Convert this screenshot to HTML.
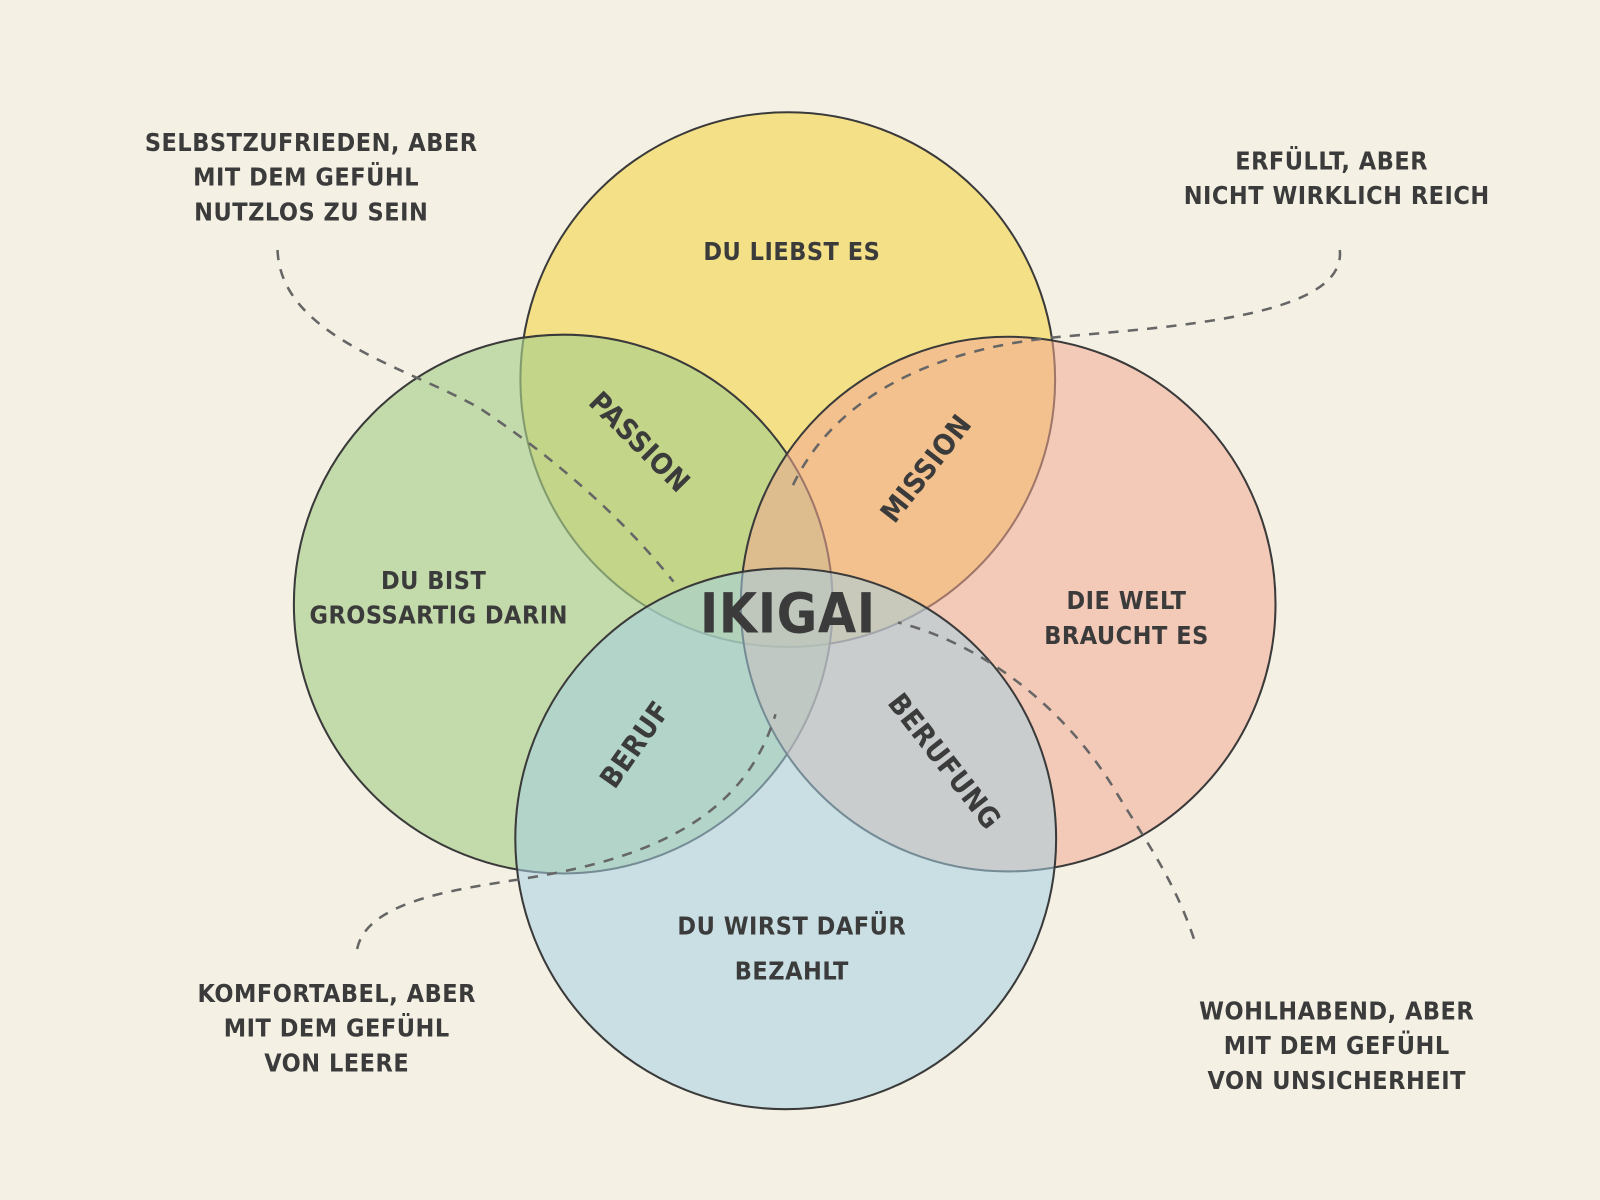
<!DOCTYPE html>
<html><head><meta charset="utf-8"><style>
html,body{margin:0;padding:0;background:#f4f1e4;}
svg{display:block;}
text{font-family:"Liberation Sans Narrow","DejaVu Sans Condensed","Liberation Sans",sans-serif;font-weight:bold;fill:#3b3b3b;text-anchor:middle;letter-spacing:0.5px;}
</style></head><body>
<svg width="1600" height="1200" viewBox="0 0 1568 1176" preserveAspectRatio="none" xmlns="http://www.w3.org/2000/svg">
<rect width="1568" height="1176" fill="#f4f1e4"/>
<g stroke="#3a3a3a" stroke-width="2">
<circle cx="772" cy="372" r="262" fill="#f4d860" fill-opacity="0.7"/>
<circle cx="552" cy="592" r="264" fill="#a9d08a" fill-opacity="0.65"/>
<circle cx="988" cy="592" r="262" fill="#f2a892" fill-opacity="0.55"/>
<circle cx="770" cy="822" r="265" fill="#a6d0e2" fill-opacity="0.55"/>
</g>
<g fill="none" stroke="#666" stroke-width="2.5" stroke-dasharray="10,9">
<path d="M272 245 C275 330 400 360 470 400 C560 460 620 520 660 570"/>
<path d="M1313 245 C1320 310 1150 320 1040 330 C930 340 820 380 775 480"/>
<path d="M350 930 C360 880 460 870 520 860 C640 840 730 800 760 700"/>
<path d="M1170 920 C1150 860 1120 820 1090 770 C1040 690 960 630 880 610"/>
</g>
<g font-size="24.5">
<text x="305" y="148">SELBSTZUFRIEDEN, ABER</text>
<text x="300" y="182">MIT DEM GEFÜHL</text>
<text x="305" y="216">NUTZLOS ZU SEIN</text>
<text x="1305" y="166">ERFÜLLT, ABER</text>
<text x="1310" y="200">NICHT WIRKLICH REICH</text>
<text x="330" y="982">KOMFORTABEL, ABER</text>
<text x="330" y="1016">MIT DEM GEFÜHL</text>
<text x="330" y="1050">VON LEERE</text>
<text x="1310" y="999">WOHLHABEND, ABER</text>
<text x="1310" y="1033">MIT DEM GEFÜHL</text>
<text x="1310" y="1067">VON UNSICHERHEIT</text>
<text x="776" y="255">DU LIEBST ES</text>
<text x="425" y="577">DU BIST</text>
<text x="430" y="611">GROSSARTIG DARIN</text>
<text x="1104" y="597">DIE WELT</text>
<text x="1104" y="631">BRAUCHT ES</text>
<text x="776" y="916">DU WIRST DAFÜR</text>
<text x="776" y="960">BEZAHLT</text>
<text transform="translate(620,440) rotate(45)" font-size="28">PASSION</text>
<text transform="translate(915,465) rotate(-52)" font-size="28">MISSION</text>
<text transform="translate(630,735) rotate(-55)" font-size="28">BERUF</text>
<text transform="translate(918,752) rotate(52)" font-size="28">BERUFUNG</text>
<text x="772" y="620" font-size="54" letter-spacing="2">IKIGAI</text>
</g>
</svg>
</body></html>
